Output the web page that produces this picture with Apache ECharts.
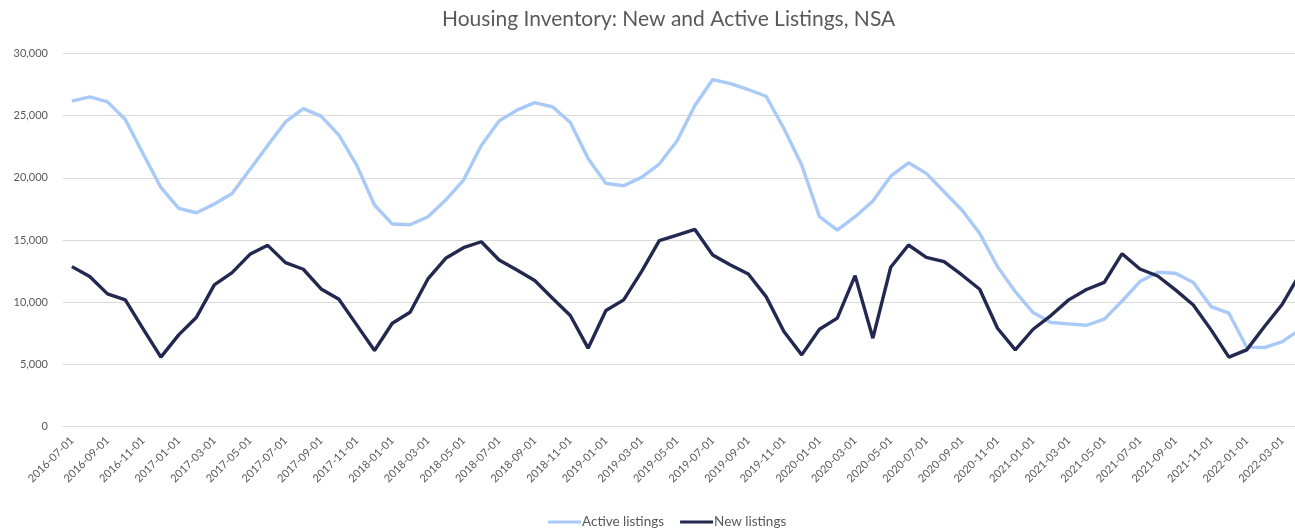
<!DOCTYPE html>
<html>
<head>
<meta charset="utf-8">
<script src="https://cdn.jsdelivr.net/npm/echarts@6/dist/echarts.min.js"></script>
<style>
html,body{margin:0;padding:0;background:#fff;}
#chart{width:1295px;height:528px;}
</style>
</head>
<body>
<div id="chart"></div>
<script>
var categories = [
"2016-07-01","2016-08-01","2016-09-01","2016-10-01","2016-11-01","2016-12-01",
"2017-01-01","2017-02-01","2017-03-01","2017-04-01","2017-05-01","2017-06-01",
"2017-07-01","2017-08-01","2017-09-01","2017-10-01","2017-11-01","2017-12-01",
"2018-01-01","2018-02-01","2018-03-01","2018-04-01","2018-05-01","2018-06-01",
"2018-07-01","2018-08-01","2018-09-01","2018-10-01","2018-11-01","2018-12-01",
"2019-01-01","2019-02-01","2019-03-01","2019-04-01","2019-05-01","2019-06-01",
"2019-07-01","2019-08-01","2019-09-01","2019-10-01","2019-11-01","2019-12-01",
"2020-01-01","2020-02-01","2020-03-01","2020-04-01","2020-05-01","2020-06-01",
"2020-07-01","2020-08-01","2020-09-01","2020-10-01","2020-11-01","2020-12-01",
"2021-01-01","2021-02-01","2021-03-01","2021-04-01","2021-05-01","2021-06-01",
"2021-07-01","2021-08-01","2021-09-01","2021-10-01","2021-11-01","2021-12-01",
"2022-01-01","2022-02-01","2022-03-01","2022-04-01"
];
var activeListings = [
26150,26500,26100,24680,21930,19220,
17540,17190,17890,18740,20670,22590,
24490,25560,24950,23420,21020,17810,
16280,16230,16870,18210,19810,22600,
24570,25430,26040,25700,24440,21550,
19550,19360,20030,21100,22970,25800,
27890,27570,27090,26550,23960,21020,
16870,15800,16870,18130,20130,21200,
20350,18880,17410,15530,12860,10850,
9170,8370,8260,8150,8640,10100,
11660,12410,12330,11580,9650,9120,
6390,6360,6840,7800
];
var newListings = [
12860,12060,10670,10190,7860,5590,
7380,8800,11390,12380,13850,14570,
13180,12650,11070,10240,8180,6120,
8310,9200,11870,13530,14380,14860,
13390,12590,11740,10320,8930,6310,
9330,10190,12460,14950,15400,15850,
13800,13000,12270,10450,7650,5770,
7830,8720,12140,7110,12810,14600,
13610,13260,12190,11040,7910,6170,
7830,8930,10190,11020,11590,13900,
12670,12110,10990,9780,7780,5590,
6170,8050,9840,12300
];
var yTicks = [0, 5000, 10000, 15000, 20000, 25000, 30000];

var chart = echarts.init(document.getElementById('chart'), null, {renderer:'canvas'});
var textColor = '#595959';
chart.setOption({
  animation: false,
  backgroundColor: '#ffffff',
  title: {
    text: 'Housing Inventory: New and Active Listings, NSA',
    left: 437,
    top: 4,
    textStyle: {fontFamily: 'Lato', fontWeight: 'normal', fontSize: 21, color: textColor}
  },
  legend: {
    top: 510,
    left: 543,
    itemWidth: 33,
    itemHeight: 3,
    itemGap: 16,
    icon: 'rect',
    textStyle: {fontFamily: 'Lato', fontSize: 13.5, color: textColor, padding: [0,0,0,-4]},
    data: ['Active listings', 'New listings']
  },
  grid: {left: 63, top: 53.3, width: 1246, height: 373.4, containLabel: false, outerBoundsMode: 'none'},
  xAxis: {
    type: 'category',
    data: categories,
    boundaryGap: true,
    axisLine: {show: true, lineStyle: {color: '#d9d9d9', width: 1}},
    axisTick: {show: false},
    axisLabel: {
      interval: 1,
      rotate: 45,
      margin: 12,
      fontFamily: 'Lato',
      fontSize: 11,
      color: textColor
    }
  },
  yAxis: {
    type: 'value',
    min: yTicks[0],
    max: yTicks[yTicks.length - 1],
    interval: 5000,
    axisLine: {show: false},
    axisTick: {show: false},
    splitLine: {lineStyle: {color: '#d9d9d9', width: 1}},
    axisLabel: {
      margin: 15,
      fontFamily: 'Lato',
      fontSize: 11,
      color: textColor,
      formatter: function (v) { return v.toLocaleString('en-US'); }
    }
  },
  series: [
    {
      name: 'Active listings',
      type: 'line',
      data: activeListings,
      symbol: 'none',
      lineStyle: {color: '#a9c9f7', width: 3.4},
      itemStyle: {color: '#a9c9f7'}
    },
    {
      name: 'New listings',
      type: 'line',
      data: newListings,
      symbol: 'none',
      lineStyle: {color: '#22284f', width: 3.4},
      itemStyle: {color: '#22284f'}
    }
  ]
});
</script>
</body>
</html>
